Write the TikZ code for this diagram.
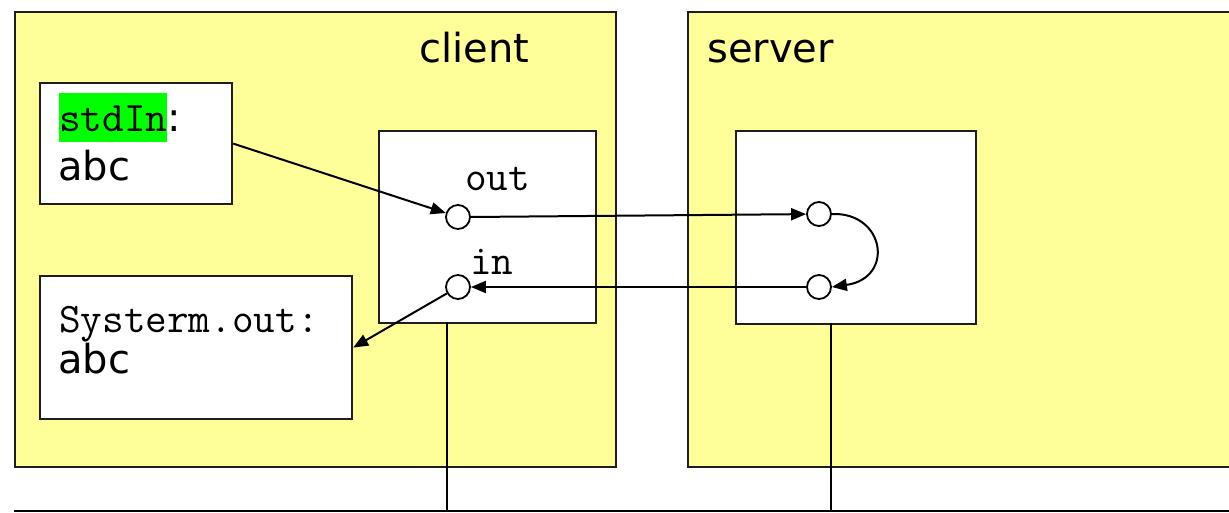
\documentclass[tikz,border=0pt]{standalone}
\usepackage{fontspec}
\setmainfont{DejaVu Sans}
\usetikzlibrary{arrows.meta,calc}
\definecolor{paleyellow}{RGB}{255,255,153}
\definecolor{hlgreen}{RGB}{0,255,0}
\definecolor{edge}{RGB}{30,30,30}

\begin{document}
\begin{tikzpicture}[x=1pt,y=-1pt,
  container/.style={draw=edge, line width=2.4pt, fill=paleyellow, inner sep=0pt, anchor=north west},
  panel/.style={draw=edge, line width=2.2pt, fill=white, inner sep=0pt, anchor=north west},
  port/.style={circle, draw=black, line width=1.8pt, fill=white, minimum size=24pt, inner sep=0pt},
  flow/.style={draw=black, line width=2pt, -{Triangle[length=15pt,width=12pt]}},
  wire/.style={draw=black, line width=2pt},
  big/.style={font=\fontsize{40}{48}\selectfont, inner sep=0pt, anchor=base west},
  code/.style={font=\ttfamily\fontsize{42}{48}\selectfont, inner sep=0pt, anchor=base west},
]
\useasboundingbox (0,0) rectangle (1229,513);
\clip (0,0) rectangle (1229,513);

% hosts
\node[container, minimum width=601pt, minimum height=455pt] (client) at (14,11) {};
\node[container, minimum width=560pt, minimum height=455pt] (server) at (687,11) {};

% boxes inside the hosts
\node[panel, minimum width=192pt, minimum height=121pt] (stdinbox) at (39,82) {};
\node[panel, minimum width=312pt, minimum height=143pt] (sysbox) at (39,275) {};
\node[panel, minimum width=217pt, minimum height=192pt] (csock) at (378,130) {};
\node[panel, minimum width=240pt, minimum height=193pt] (ssock) at (735,130) {};

% labels
\node[big] (clientlbl) at (419,63) {client};
\node[big] (serverlbl) at (707,63) {server};
\node[code, fill=hlgreen, text height=39pt, text depth=10pt] (stdin) at (59,132) {stdIn};
\node[big] (colon) at (stdin.base east) {:};
\node[big] (abcin) at (58,181) {abc};
\node[code] (sysout) at (59,332) {Systerm.out:};
\node[big] (abcout) at (58,373) {abc};
\node[code] (outlbl) at (465,191) {out};
\node[code] (inlbl) at (470,274) {in};

% network attachment
\coordinate (ctap) at (447,322);
\coordinate (stap) at (831,323);
\coordinate (busL) at (14,511);
\coordinate (busR) at (1229,511);
\draw[wire] (ctap) -- (ctap |- busL);
\draw[wire] (stap) -- (stap |- busL);
\draw[wire] (busL) -- (busR);

% ports
\node[port] (cout) at (458,217) {};
\node[port] (cin) at (458,287) {};
\node[port] (sa) at (819,214) {};
\node[port] (sb) at (819,287) {};

% data flow
\draw[flow] (stdinbox.east) -- (cout);
\draw[flow] (cout.east) -- (sa);
\draw[flow] (sa.east) .. controls (885,212) and (895,278) .. (sb.east);
\draw[flow] (sb) -- (cin);
\draw[flow] (cin) -- (sysbox.east);
\end{tikzpicture}
\end{document}
